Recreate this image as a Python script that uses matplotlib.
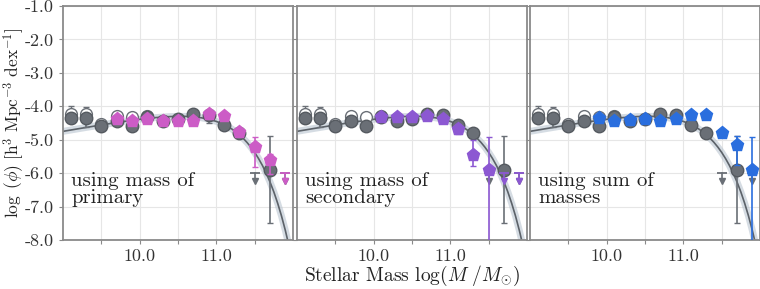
import numpy as np
import matplotlib.pyplot as plt
from matplotlib.ticker import FixedLocator, FixedFormatter

plt.rcParams['font.family'] = ['cmr10', 'DejaVu Serif']
plt.rcParams['mathtext.fontset'] = 'cm'
plt.rcParams['axes.formatter.use_mathtext'] = True

# reference (grey) mass function, same in all panels
grey_x = [9.1, 9.3, 9.5, 9.7, 9.9, 10.1, 10.3, 10.5, 10.7, 10.9, 11.1, 11.3, 11.7]
grey_y = [-4.36, -4.36, -4.58, -4.43, -4.58, -4.31, -4.43, -4.37, -4.23, -4.25, -4.57, -4.79, -5.9]
grey_lo = [0.15, 0.25, 0.15, 0.08, 0.08, 0.08, 0.08, 0.08, 0.08, 0.25, 0.08, 0.08, 1.6]
grey_hi = [0.15, 0.10, 0.15, 0.08, 0.08, 0.08, 0.08, 0.08, 0.08, 0.08, 0.08, 0.08, 1.0]
grey_ul_x = [11.5, 11.9]
grey_ul_y = [-6.0, -6.0]

# open circles (uncorrected values at low mass)
open_x = [9.1, 9.3, 9.5, 9.7, 9.9, 10.1]
open_y = [-4.22, -4.22, -4.52, -4.3, -4.32, -4.3]
open_err = [0.22, 0.2, 0.1, 0.08, 0.08, 0.08]

# Schechter fit
fit_x = [9.0, 9.2, 9.4, 9.6, 9.8, 10.0, 10.2, 10.4, 10.6, 10.8, 10.9, 11.0, 11.05, 11.1,
         11.15, 11.2, 11.25, 11.3, 11.35, 11.4, 11.45, 11.5, 11.55, 11.6, 11.65, 11.7,
         11.75, 11.8, 11.85, 11.9, 11.95, 12.0]
fit_y = [-4.75, -4.672, -4.596, -4.522, -4.453, -4.39, -4.34, -4.307, -4.302, -4.342, -4.387,
         -4.453, -4.497, -4.548, -4.608, -4.677, -4.759, -4.851, -4.958, -5.081, -5.22, -5.379,
         -5.561, -5.766, -5.999, -6.264, -6.562, -6.901, -7.281, -7.713, -8.199, -8.745]

# primary
prim_x = [9.7, 9.9, 10.1, 10.3, 10.5, 10.7, 10.9, 11.1, 11.3, 11.5, 11.7]
prim_y = [-4.38, -4.43, -4.38, -4.43, -4.43, -4.43, -4.23, -4.30, -4.77, -5.22, -5.62]
prim_lo = [0.06, 0.08, 0.08, 0.08, 0.1, 0.08, 0.08, 0.06, 0.12, 0.6, 0.4]
prim_hi = [0.06, 0.08, 0.08, 0.08, 0.08, 0.08, 0.08, 0.06, 0.12, 0.3, 0.2]
prim_ul_x = [11.9]
prim_ul_y = [-6.0]

# secondary
sec_x = [10.1, 10.3, 10.5, 10.7, 10.9, 11.1, 11.3, 11.5]
sec_y = [-4.32, -4.32, -4.32, -4.3, -4.37, -4.68, -5.45, -5.92]
sec_lo = [0.06, 0.06, 0.06, 0.06, 0.08, 0.15, 0.35, 2.5]
sec_hi = [0.06, 0.06, 0.06, 0.06, 0.08, 0.15, 0.45, 1.0]
sec_ul_x = [11.7, 11.9]
sec_ul_y = [-6.0, -6.0]

# sum of masses
sum_x = [9.9, 10.1, 10.3, 10.5, 10.7, 10.9, 11.1, 11.3, 11.5, 11.7, 11.9]
sum_y = [-4.35, -4.45, -4.4, -4.38, -4.45, -4.38, -4.25, -4.25, -4.8, -5.15, -5.92]
sum_lo = [0.05, 0.06, 0.06, 0.06, 0.06, 0.06, 0.05, 0.05, 0.1, 0.6, 2.5]
sum_hi = [0.05, 0.06, 0.06, 0.06, 0.06, 0.06, 0.05, 0.05, 0.1, 0.25, 1.0]

yticks = [-8.0, -7.0, -6.0, -5.0, -4.0, -3.0, -2.0, -1.0]
xticks = [9.5, 10.0, 10.5, 11.0, 11.5]
xticklabels = ["", "10.0", "", "11.0", ""]

panels = [
    ("using mass of\nprimary", prim_x, prim_y, prim_lo, prim_hi, prim_ul_x, prim_ul_y, "#cc5cc6"),
    ("using mass of\nsecondary", sec_x, sec_y, sec_lo, sec_hi, sec_ul_x, sec_ul_y, "#8c58d2"),
    ("using sum of\nmasses", sum_x, sum_y, sum_lo, sum_hi, [], [], "#2a6ede"),
]

GREY = "#6a6f76"


def draw_ul(ax, xs, ys, color):
    for x, y in zip(xs, ys):
        ax.plot([x, x], [y, y - 0.22], color=color, lw=1.2, zorder=4)
        ax.plot([x], [y], marker="_", ms=7, mew=1.3, color=color, zorder=4)
        ax.plot([x], [y - 0.24], marker="v", ms=5, color=color, mec=color, zorder=4)


fig = plt.figure(figsize=(7.6, 2.89), dpi=100)
lefts = [63 / 760, 297 / 760, 530 / 760]
for i, (label, px, py, plo, phi, ulx, uly, col) in enumerate(panels):
    ax = fig.add_axes([lefts[i], 49 / 289, 230 / 760, 234 / 289])
    ax.set_xlim(9.0, 12.0)
    ax.set_ylim(-8.0, -1.0)
    ax.grid(True, color="#e6e6e6", lw=0.8)
    ax.set_axisbelow(True)
    for s in ax.spines.values():
        s.set_color("#8a8a8a")
        s.set_linewidth(1.3)

    ax.plot(fit_x, fit_y, color="#b4c0cc", lw=5, alpha=0.55, zorder=2, solid_capstyle="butt")
    ax.plot(fit_x, fit_y, color="#5c6269", lw=1.2, zorder=2)

    ax.errorbar(open_x, open_y, yerr=open_err, fmt="o", ms=8.5, mfc="white", mec=GREY,
                mew=1.0, ecolor=GREY, elinewidth=1.0, capsize=2, zorder=3)
    ax.errorbar(grey_x, grey_y, yerr=[grey_lo, grey_hi], fmt="o", ms=9, color=GREY,
                mec="#555a60", ecolor=GREY, elinewidth=1.2, capsize=2, zorder=3.5)
    draw_ul(ax, grey_ul_x, grey_ul_y, GREY)

    ax.errorbar(px, py, yerr=[plo, phi], fmt="p", ms=9.5, color=col, mec=col,
                ecolor=col, elinewidth=1.2, capsize=2, zorder=5)
    draw_ul(ax, ulx, uly, col)

    ax.text(0.035, 0.215, label, transform=ax.transAxes, fontsize=15,
            va="center", ha="left", linespacing=0.95, color="#222222", zorder=6)

    ax.xaxis.set_major_locator(FixedLocator(xticks))
    ax.xaxis.set_major_formatter(FixedFormatter(xticklabels))
    ax.yaxis.set_major_locator(FixedLocator(yticks))
    if i == 0:
        ax.yaxis.set_major_formatter(FixedFormatter(["%.1f" % v for v in yticks]))
        ax.set_ylabel(r"$\log\ (\phi)\ [\mathrm{h}^3\ \mathrm{Mpc}^{-3}\ \mathrm{dex}^{-1}]$",
                      fontsize=12.5, color="#222222")
        ax.yaxis.set_label_coords(-0.16, 0.5)
    else:
        ax.yaxis.set_major_formatter(FixedFormatter([""] * len(yticks)))
    ax.tick_params(axis="both", direction="out", length=3, width=0.8, color="#8a8a8a",
                   labelsize=13, labelcolor="#333333")
    if i == 1:
        ax.set_xlabel(r"Stellar Mass $\log(M\ /M_{\odot})$", fontsize=14, color="#222222",
                      labelpad=0)

fig.savefig("out.png", dpi=100)
